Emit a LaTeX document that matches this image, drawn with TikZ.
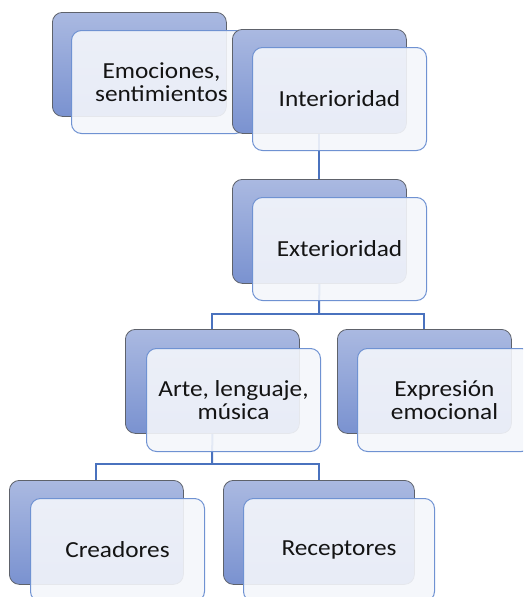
\documentclass[tikz,border=0pt]{standalone}
\usepackage{fontspec}
\setmainfont{Carlito}[FakeStretch=1.1]
\usetikzlibrary{backgrounds}
\definecolor{backtop}{HTML}{AAB9E1}
\definecolor{backbot}{HTML}{7A92D0}
\definecolor{backline}{HTML}{5E626B}
\definecolor{frontfill}{HTML}{F4F6FB}
\definecolor{frontline}{HTML}{6F92D2}
\definecolor{conn}{HTML}{4A72BE}
\begin{document}
\begin{tikzpicture}[x=1pt,y=-1pt,
  backbox/.style={draw=backline, line width=0.8pt, rounded corners=10pt,
    top color=backtop, bottom color=backbot,
    minimum width=174pt, minimum height=104pt, anchor=north west, inner sep=0pt},
  frontbox/.style={draw=frontline, line width=1pt, rounded corners=10pt,
    fill=frontfill, fill opacity=0.9, text opacity=1,
    minimum width=174pt, minimum height=103pt, anchor=north west, inner sep=0pt,
    align=center, font=\fontsize{23}{23.5}\selectfont, text=black!92},
  link/.style={draw=conn, line width=2pt}]
\useasboundingbox (0,0) rectangle (523,597);
\clip (0,0) rectangle (523,597);
% boxes
\node[backbox] (eb) at (52,12) {};
\node[frontbox] (ef) at (71,30) {\hspace*{6pt}Emociones,\\\hspace*{6pt}sentimientos};
\node[backbox] (ib) at (232,29) {};
\node[frontbox] (if) at (252,47) {Interioridad};
\node[backbox] (xb) at (232,179) {};
\node[frontbox] (xf) at (252,197) {Exterioridad};
\node[backbox] (ab) at (125,329) {};
\node[frontbox] (af) at (146,348) {Arte, lenguaje,\\música};
\node[backbox] (pb) at (337,329) {};
\node[frontbox] (pf) at (357,348) {Expresión\\emocional};
\node[backbox] (cb) at (9,480) {};
\node[frontbox] (cf) at (30,498) {Creadores};
\node[backbox, minimum width=191pt] (rb) at (223,480) {};
\node[frontbox, minimum width=191pt] (rf) at (243,498) {Receptores};
% connectors behind the boxes
\begin{scope}[on background layer]
\coordinate (j1) at (319,314);
\coordinate (j2) at (212,464);
\draw[link] (ib.south) -- (xb.north);
\draw[link] (xb.south) -- (j1);
\draw[link] (j1) -| (ab.north);
\draw[link] (j1) -| (pb.north);
\draw[link] (ab.south) -- (j2);
\draw[link] (j2) -| (cb.north);
\draw[link] (j2) -| (rb.north);
\end{scope}
\end{tikzpicture}
\end{document}
